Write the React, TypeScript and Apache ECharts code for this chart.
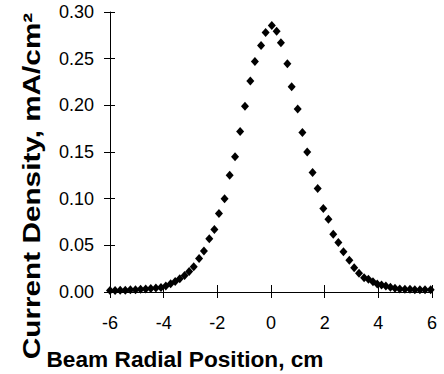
import React, { useEffect, useRef } from "react";
import * as echarts from "echarts";

const xPositions = [
  -6.0, -5.81, -5.62, -5.43, -5.24, -5.05, -4.86, -4.67, -4.48, -4.29, -4.1,
  -3.92, -3.74, -3.57, -3.4, -3.22, -3.05, -2.88, -2.68, -2.5, -2.3, -2.11,
  -1.94, -1.73, -1.54, -1.34, -1.15, -0.97, -0.77, -0.6, -0.37, -0.2, 0.03,
  0.21, 0.37, 0.61, 0.77, 0.995, 1.17, 1.35, 1.55, 1.74, 1.95, 2.14, 2.32,
  2.51, 2.7, 2.92, 3.1, 3.28, 3.47, 3.63, 3.8, 3.96, 4.12, 4.28, 4.45, 4.62,
  4.8, 4.99, 5.18, 5.36, 5.55, 5.74, 5.95,
];

const currentDensity = [
  0.0015, 0.0015, 0.002, 0.002, 0.0025, 0.0025, 0.003, 0.0032, 0.0037, 0.0042,
  0.0048, 0.0065, 0.0088, 0.0112, 0.0142, 0.0178, 0.022, 0.027, 0.036, 0.044,
  0.057, 0.067, 0.084, 0.1, 0.125, 0.145, 0.172, 0.199, 0.226, 0.247, 0.264,
  0.278, 0.2856, 0.2795, 0.267, 0.2446, 0.22, 0.196, 0.171, 0.15, 0.128, 0.111,
  0.0895, 0.078, 0.062, 0.053, 0.043, 0.034, 0.026, 0.02, 0.0153, 0.0136,
  0.011, 0.0086, 0.0075, 0.0064, 0.005, 0.004, 0.0033, 0.003, 0.003, 0.0025,
  0.0025, 0.0025, 0.0025,
];

const xTitle = "Beam Radial Position, cm";
const yTitle = "Current Density, mA/cm²";

const FONT = 'Arial, "Liberation Sans", sans-serif';

export default function App() {
  const ref = useRef<HTMLDivElement>(null);

  useEffect(() => {
    document.body.style.margin = "0";
    if (!ref.current) return;
    const chart = echarts.init(ref.current, null, { renderer: "svg" });
    const points = xPositions.map((x, i) => [x, currentDensity[i]]);

    const baseX = {
      type: "value" as const,
      min: -6,
      max: 6,
      interval: 2,
      position: "bottom" as const,
      splitLine: { show: false },
    };
    const baseY = {
      type: "value" as const,
      min: 0,
      max: 0.3,
      interval: 0.05,
      position: "left" as const,
      splitLine: { show: false },
    };

    chart.setOption({
      animation: false,
      backgroundColor: "#ffffff",
      grid: { left: 110, right: 12, top: 12, bottom: 82, containLabel: false },
      xAxis: [
        {
          ...baseX,
          axisLine: { show: true, onZero: false, lineStyle: { color: "#000", width: 1 } },
          axisTick: { show: true, inside: false, length: 6, lineStyle: { color: "#000" } },
          axisLabel: { color: "#000", fontSize: 18, fontFamily: FONT, margin: 22 },
        },
        {
          ...baseX,
          axisLine: { show: false, onZero: false },
          axisTick: { show: true, inside: true, length: 7, lineStyle: { color: "#000" } },
          axisLabel: { show: false },
        },
      ],
      yAxis: [
        {
          ...baseY,
          axisLine: { show: true, onZero: false, lineStyle: { color: "#000", width: 1 } },
          axisTick: { show: true, inside: false, length: 6, lineStyle: { color: "#000" } },
          axisLabel: {
            color: "#000",
            fontSize: 18,
            fontFamily: FONT,
            margin: 16,
            formatter: (v: number) => v.toFixed(2),
          },
        },
        {
          ...baseY,
          axisLine: { show: false, onZero: false },
          axisTick: { show: true, inside: true, length: 5, lineStyle: { color: "#000" } },
          axisLabel: { show: false },
        },
      ],
      series: [
        {
          type: "scatter",
          xAxisIndex: 0,
          yAxisIndex: 0,
          data: points,
          symbol: "diamond",
          symbolSize: [8, 9],
          itemStyle: { color: "#000", opacity: 1 },
        },
      ],
      graphic: [
        {
          type: "text",
          x: 185,
          y: 360,
          scaleX: 1.03,
          style: {
            text: xTitle,
            fontSize: 22,
            fontWeight: "bold",
            fontFamily: FONT,
            fill: "#000",
            align: "center",
            verticalAlign: "middle",
          },
        },
        {
          type: "text",
          x: 32,
          y: 186,
          rotation: Math.PI / 2,
          scaleX: 1.24,
          style: {
            text: yTitle,
            fontSize: 24,
            fontWeight: "bold",
            fontFamily: FONT,
            fill: "#000",
            align: "center",
            verticalAlign: "middle",
          },
        },
      ],
    });

    return () => chart.dispose();
  }, []);

  return (
    <div
      ref={ref}
      style={{ width: 444, height: 374, position: "absolute", left: 0, top: 0 }}
    />
  );
}
